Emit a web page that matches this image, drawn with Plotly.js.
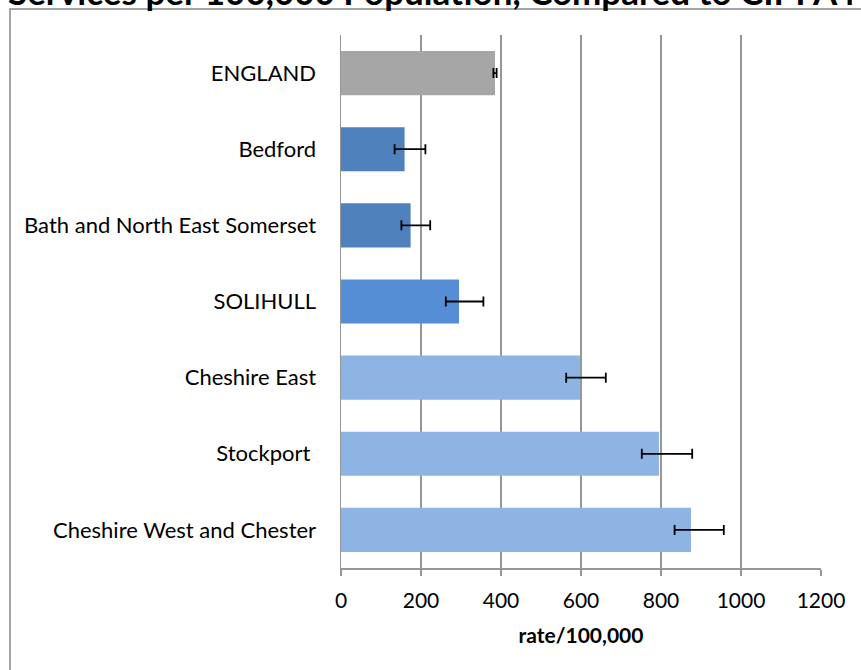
<!DOCTYPE html>
<html>
<head>
<meta charset="utf-8">
<script src="https://cdn.plot.ly/plotly-3.0.1.min.js"></script>
<style>html,body{margin:0;padding:0;background:#fff;}#chart{width:861px;height:670px;}</style>
</head>
<body>
<div id="chart"></div>
<script>
var categories = ["ENGLAND", "Bedford", "Bath and North East Somerset", "SOLIHULL", "Cheshire East", "Stockport ", "Cheshire West and Chester"];
var rates = [385, 159, 174, 295, 598, 795, 875];
var lowerCI = [381, 134, 151, 262, 563, 752, 834];
var upperCI = [389, 211, 223, 356, 662, 878, 957];
var barColors = ["#A6A6A6", "#4F81BD", "#4F81BD", "#558ED5", "#8EB4E3", "#8EB4E3", "#8EB4E3"];
var xTicks = [0, 200, 400, 600, 800, 1000, 1200];

var errPlus = rates.map(function(v, i){ return upperCI[i] - v; });
var errMinus = rates.map(function(v, i){ return v - lowerCI[i]; });

var font = "Lato, 'Open Sans', sans-serif";

var trace = {
  type: "bar",
  orientation: "h",
  y: categories,
  x: rates,
  marker: {color: barColors},
  error_x: {type: "data", symmetric: false, array: errPlus, arrayminus: errMinus, color: "#000", thickness: 1.8, width: 5},
  hoverinfo: "x+y"
};

var L = 341, R = 821, T = 35, B = 568, W = 861, H = 670;
var pw = R - L, ph = B - T;

var layout = {
  width: W, height: H,
  margin: {l: L, r: W - R, t: T, b: H - B, pad: 0},
  paper_bgcolor: "#fff", plot_bgcolor: "#fff",
  showlegend: false,
  bargap: 0.42,
  font: {family: font, size: 22, color: "#000"},
  title: {text: "<b>Services per 100,000 Population, Compared to CIPFA Nearest Neighbours</b>", font: {family: font, size: 35, color: "#000"}, x: 8/861, xanchor: "left", xref: "container", yref: "container", y: 1 - 5/670, yanchor: "bottom"},
  xaxis: {
    range: [0, 1200], tickvals: xTicks, ticktext: xTicks.map(String),
    showgrid: true, gridcolor: "#969696", gridwidth: 1.5,
    showline: true, linecolor: "#969696", linewidth: 1.5,
    ticks: "outside", ticklen: 6, tickcolor: "#969696", tickwidth: 1.5,
    ticklabelstandoff: 7,
    zeroline: false, fixedrange: true,
    tickfont: {family: font, size: 21, color: "#000"},
    title: {text: "<b>rate/100,000</b>", font: {family: font, size: 21, color: "#000"}, standoff: 17}
  },
  yaxis: {
    autorange: "reversed", type: "category",
    showline: true, linecolor: "#969696", linewidth: 1.5,
    showgrid: false, ticks: "", ticklabelstandoff: 19,
    tickfont: {family: font, size: 22, color: "#000"}, fixedrange: true
  },
  shapes: [{
    type: "rect", xref: "paper", yref: "paper",
    x0: (10 - L) / pw, x1: (W + 20 - L) / pw,
    y0: (B - (H + 20)) / ph, y1: (B - 9) / ph,
    line: {color: "#868686", width: 1.5}, fillcolor: "rgba(0,0,0,0)", layer: "below"
  }]
};

Plotly.newPlot("chart", [trace], layout, {displayModeBar: false, staticPlot: true});
</script>
</body>
</html>
